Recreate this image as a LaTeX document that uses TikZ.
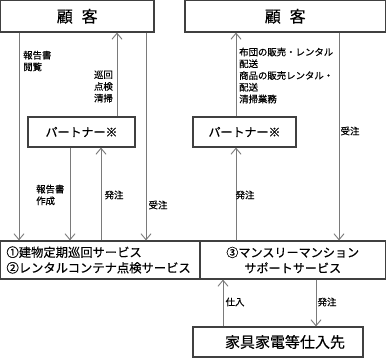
\documentclass[tikz,border=0pt]{standalone}
\usepackage{fontspec}
\setmainfont{Noto Sans CJK JP}[FakeBold=0.5]
\usetikzlibrary{arrows.meta}
\definecolor{FlowGray}{HTML}{7A7A7A}
\definecolor{BoxGray}{HTML}{404040}
\tikzset{
  box/.style={draw=BoxGray,line width=1.1pt,inner sep=0pt},
  flow/.style={draw=FlowGray,line width=0.9pt,-{Straight Barb[length=6pt,width=10pt]}},
  note/.style={font=\fontsize{9.4}{11.75}\selectfont,align=left,inner sep=0pt},
}

\begin{document}
\begin{tikzpicture}[x=1pt,y=-1pt]
  \useasboundingbox (0,0) rectangle (386,358);
  % boxes
  \node[box,minimum width=153.5pt,minimum height=31.5pt,font=\fontsize{16}{16}\selectfont] (topL) at (77.25,16.25) {顧\hspace{0.55em}客};
  \node[box,minimum width=200.5pt,minimum height=31.5pt,font=\fontsize{16}{16}\selectfont] (topR) at (285.25,16.25) {顧\hspace{0.55em}客};
  \node[box,minimum width=107pt,minimum height=30pt,font=\fontsize{12}{12}\selectfont] (partL) at (81.5,132) {パートナー※};
  \node[box,minimum width=103pt,minimum height=30pt,font=\fontsize{12}{12}\selectfont] (partR) at (244.5,132) {パートナー※};
  \node[box,minimum height=38pt,text width=187.5pt,inner xsep=6pt,align=left,font=\fontsize{12.3}{15.6}\selectfont] (svcL) at (100.25,260) {①建物定期巡回サービス\\②レンタルコンテナ点検サービス};
  \node[box,minimum width=185.5pt,minimum height=38pt,align=center,font=\fontsize{12.1}{15.6}\selectfont] (svcR) at (292.75,260) {③マンスリーマンション\\サポートサービス};
  \node[box,minimum width=170pt,minimum height=30pt,font=\fontsize{15}{15}\selectfont] (supp) at (278,342) {\hspace{14pt}家具家電等仕入先};

  % left side
  \draw[flow] (topL.south -| 19,0) -- (svcL.north -| 19,0);
  \draw[flow] (partL.north -| 117,0) -- (topL.south -| 117,0);
  \draw[flow] (topL.south -| 146,0) -- (svcL.north -| 146,0);
  \draw[flow] (partL.south -| 70,0) -- (svcL.north -| 70,0);
  \draw[flow] (svcL.north -| 101,0) -- (partL.south -| 101,0);
  \node[note,anchor=west] (lblA) at (23,61) {報告書\\閲覧};
  \node[note,anchor=east] (lblB) at (113,86.5) {巡回\\点検\\清掃};
  \node[note,anchor=west] (lblC) at (36,195) {報告書\\作成};
  \node[note] (lblD) at (114,195) {発注};
  \node[note] (lblE) at (158,205) {受注};

  % right side
  \draw[flow] (partR.north -| 236,0) -- (topR.south -| 236,0);
  \draw[flow] (topR.south -| 339,0) -- (svcR.north -| 339,0);
  \draw[flow] (svcR.north -| 236,0) -- (partR.south -| 236,0);
  \node[note,anchor=west] (lblF) at (239,75.5) {布団の販売・レンタル\\配送\\商品の販売レンタル・\\配送\\清掃業務};
  \node[note] (lblG) at (350,131) {受注};
  \node[note] (lblH) at (245,195) {発注};

  % supplier
  \draw[flow] (supp.north -| 223,0) -- (svcR.south -| 223,0);
  \draw[flow] (svcR.south -| 316,0) -- (supp.north -| 316,0);
  \node[note] (lblI) at (235,302) {仕入};
  \node[note] (lblJ) at (327,302) {発注};
\end{tikzpicture}
\end{document}
